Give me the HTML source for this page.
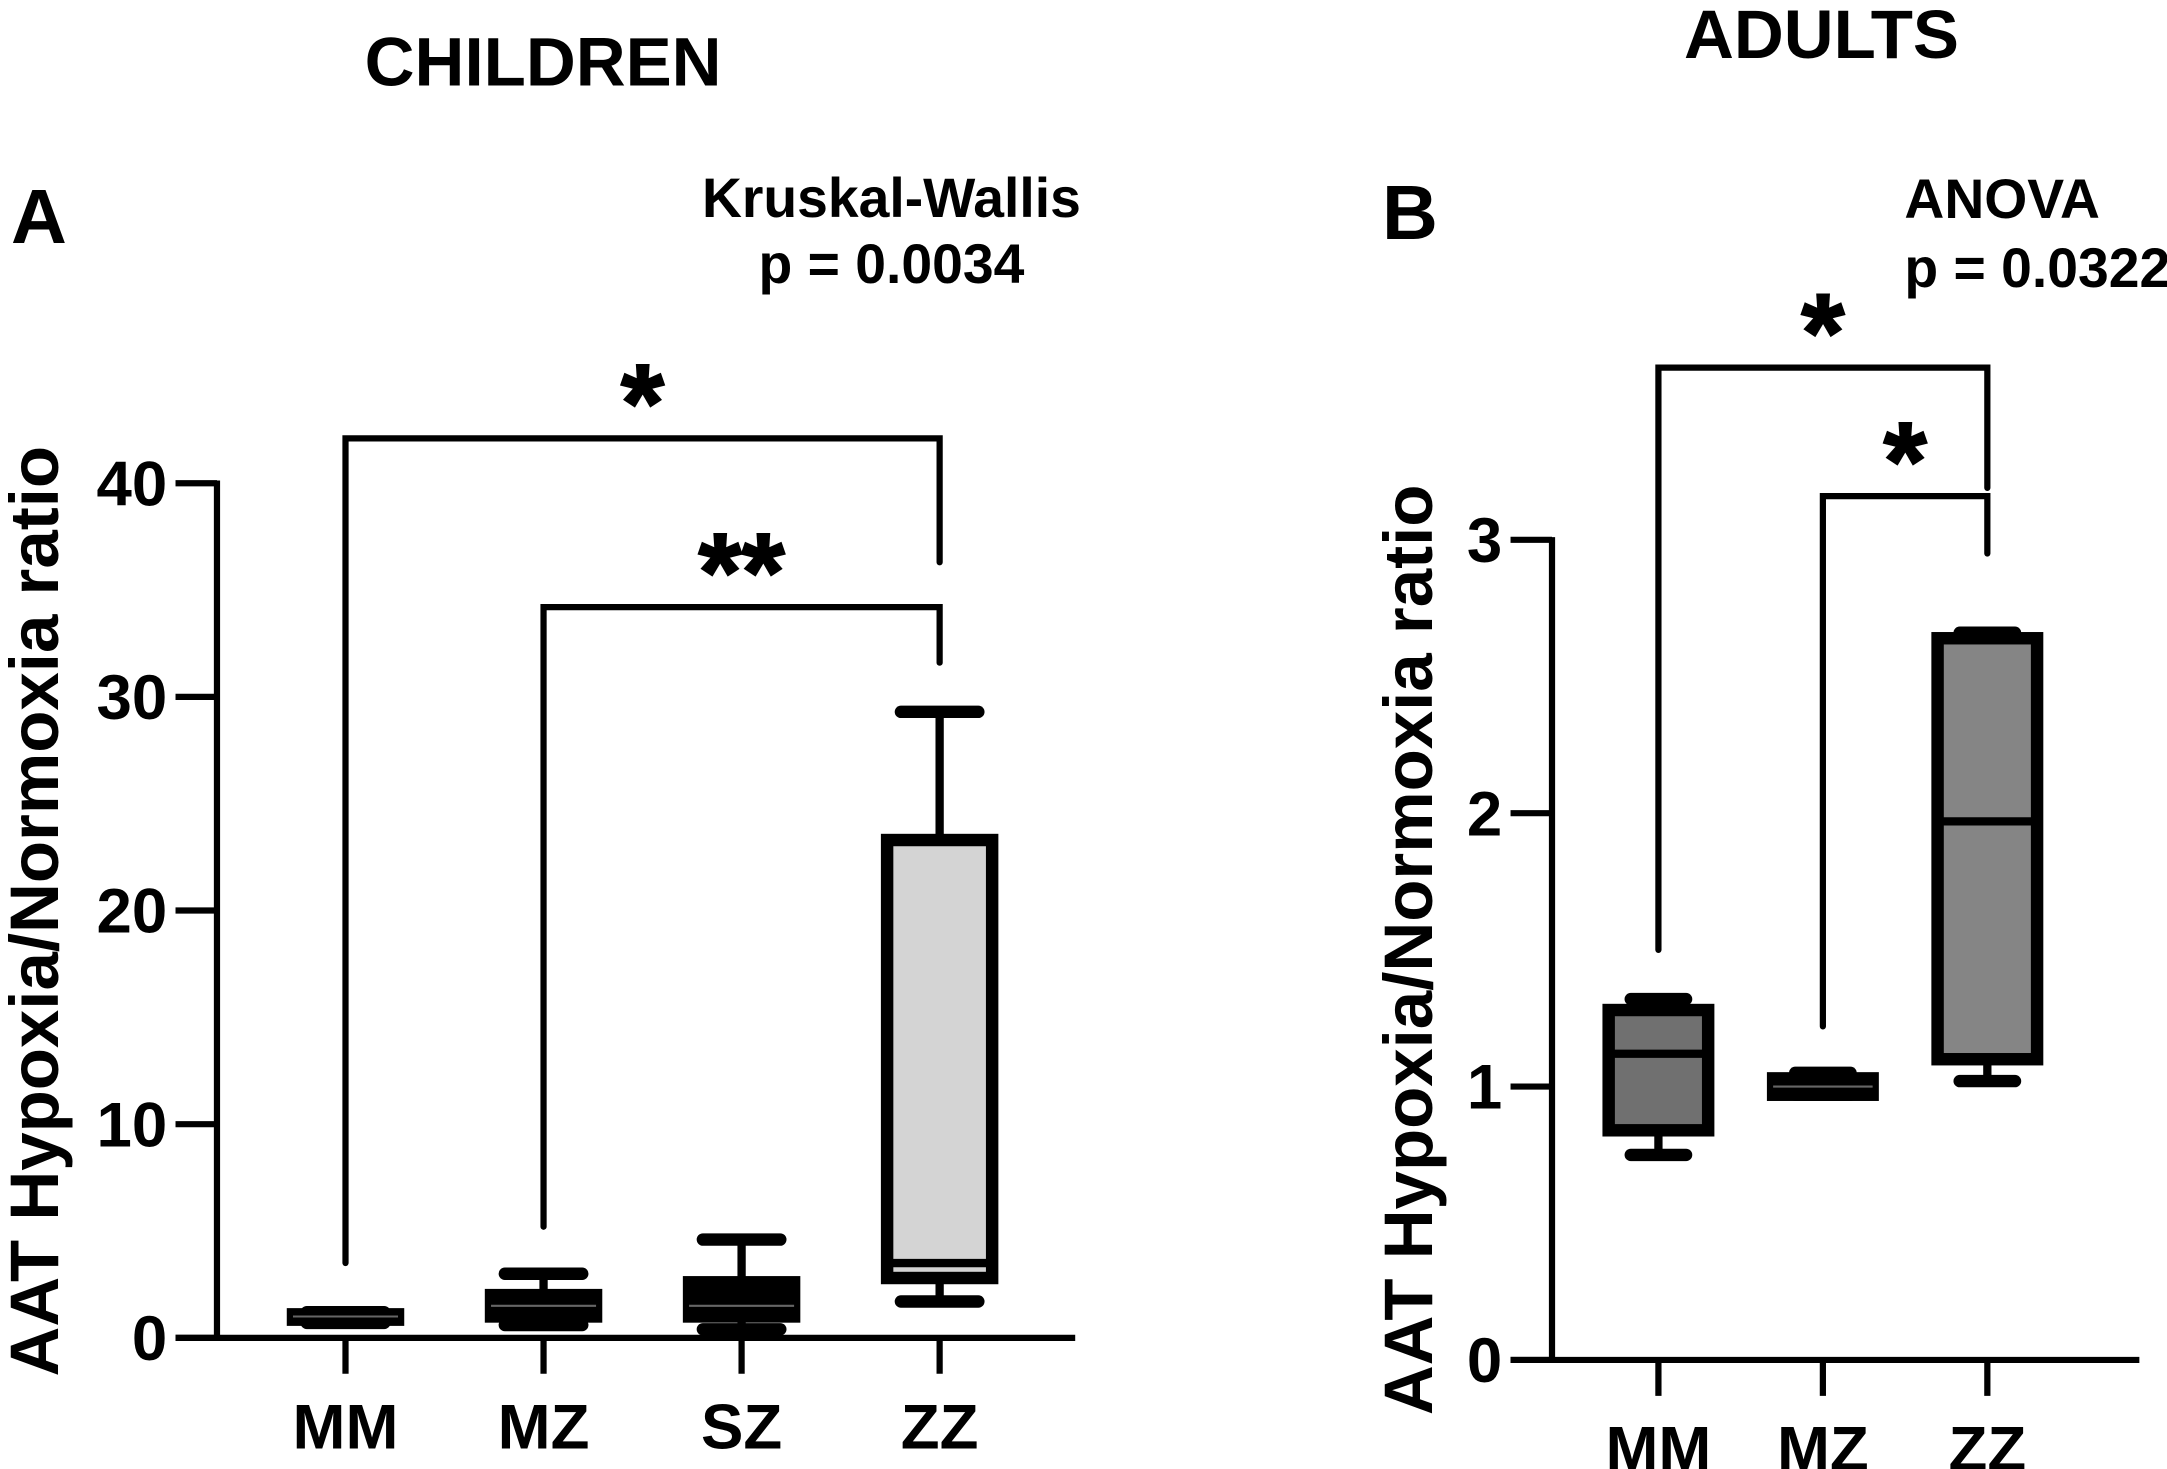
<!DOCTYPE html>
<html><head><meta charset="utf-8"><style>
html,body{margin:0;padding:0;background:#fff}
svg{display:block}
text{font-family:"Liberation Sans",Arial,sans-serif;font-weight:bold;fill:#000}
</style></head><body>
<svg id="fig" width="2167" height="1469" viewBox="0 0 1568 1064" preserveAspectRatio="none" xmlns="http://www.w3.org/2000/svg">
<text x="393" y="62" font-size="50" text-anchor="middle">CHILDREN</text>
<text x="1318" y="42" font-size="50" text-anchor="middle">ADULTS</text>
<text x="8" y="176" font-size="56">A</text>
<text x="1000" y="173" font-size="56">B</text>
<text x="645" y="157" font-size="40" text-anchor="middle">Kruskal-Wallis</text>
<text x="645" y="205" font-size="40" text-anchor="middle">p = 0.0034</text>
<text x="1378" y="158" font-size="40">ANOVA</text>
<text x="1378" y="208" font-size="40">p = 0.0322</text>
<text transform="translate(42,660) rotate(-90)" font-size="50" text-anchor="middle">AAT Hypoxia/Normoxia ratio</text>
<text transform="translate(1036,688) rotate(-90)" font-size="50" text-anchor="middle">AAT Hypoxia/Normoxia ratio</text>
<g id="pa"></g><g id="pb"></g>
</svg>
<script>
const catsA=["MM","MZ","SZ","ZZ"];
const lowA=[0.7,0.6,0.4,1.7];
const q1A=[0.85,1.0,1.0,2.8];
const medA=[1.0,1.5,1.5,3.5];
const q3A=[1.1,2.0,2.6,23.3];
const highA=[1.2,3.0,4.6,29.3];
const fillA=["#000","#000","#000","#d4d4d4"];
const ticksA=[0,10,20,30,40];
const bracketsA=[{from:0,to:3,y:42.1,l:3.5,r:36.3,label:"*"},{from:1,to:3,y:34.2,l:5.2,r:31.6,label:"**"}];

const catsB=["MM","MZ","ZZ"];
const lowB=[0.75,0.97,1.02];
const q1B=[0.84,0.97,1.1];
const medB=[1.12,1.0,1.97];
const q3B=[1.28,1.03,2.64];
const highB=[1.32,1.05,2.66];
const fillB=["#707070","#000","#858585"];
const ticksB=[0,1,2,3];
const bracketsB=[{from:0,to:2,y:3.63,l:1.5,r:3.19,label:"*"},{from:1,to:2,y:3.16,l:1.22,r:2.95,label:"*"}];

const NS="http://www.w3.org/2000/svg";
function mk(g,tag,a,txt){const e=document.createElementNS(NS,tag);for(const k in a)e.setAttribute(k,a[k]);if(txt!==undefined)e.textContent=txt;g.appendChild(e);return e;}

function panel(g,cfg){
  const y=v=>cfg.y0-(v-cfg.min)/(cfg.max-cfg.min)*(cfg.y0-cfg.yTop);
  const x=i=>cfg.x0+i*cfg.step;
  let e=mk(g,'line',{x1:cfg.axX,y1:y(cfg.max)-2,x2:cfg.axX,y2:cfg.y0+2,stroke:'#000','stroke-width':4.5});
  
  
  e=mk(g,'line',{x1:cfg.axX-30,y1:cfg.y0,x2:cfg.axEnd,y2:cfg.y0,stroke:'#000','stroke-width':4.5});
  
  
  cfg.ticks.forEach(t=>{
    e=mk(g,'line',{x1:cfg.axX-30,y1:y(t),x2:cfg.axX,y2:y(t),stroke:'#000','stroke-width':4.5});
    
    
    e=mk(g,'text',{x:cfg.axX-36,y:y(t)+16,'font-size':46,'text-anchor':'end'},String(t));
    
    
  });
  cfg.cats.forEach((c,i)=>{
    const cx=x(i);
    e=mk(g,'line',{x1:cx,y1:cfg.y0,x2:cx,y2:cfg.y0+26,stroke:'#000','stroke-width':4.5});
    
    
    e=mk(g,'text',{x:cx,y:cfg.y0+80,'font-size':46,'text-anchor':'middle'},c);
    
    
    const bw=cfg.bw,cw=cfg.cw;
    const wg=mk(g,'g',{stroke:'#000','stroke-width':6,'stroke-linecap':'round'});
    
    
    mk(wg,'line',{x1:cx,y1:y(cfg.high[i]),x2:cx,y2:y(cfg.low[i])});
    mk(wg,'line',{x1:cx-cw,y1:y(cfg.high[i]),x2:cx+cw,y2:y(cfg.high[i]),'stroke-width':9});
    mk(wg,'line',{x1:cx-cw,y1:y(cfg.low[i]),x2:cx+cw,y2:y(cfg.low[i]),'stroke-width':9});
    const top=y(cfg.q3[i]),bot=y(cfg.q1[i]);
    e=mk(g,'rect',{x:cx-bw/2,y:top,width:bw,height:Math.max(bot-top,0.5),fill:cfg.fill[i],stroke:'#000','stroke-width':9});
    
    
    e=mk(g,'line',{x1:cx-bw/2,y1:y(cfg.med[i]),x2:cx+bw/2,y2:y(cfg.med[i]),stroke:cfg.fill[i]==='#000'?'#666':'#000','stroke-width':cfg.fill[i]==='#000'?1.5:6});
    
    
  });
  cfg.brackets.forEach(b=>{
    const yy=y(b.y);
    e=mk(g,'polyline',{points:`${x(b.from)},${y(b.l)} ${x(b.from)},${yy} ${x(b.to)},${yy} ${x(b.to)},${y(b.r)}`,fill:'none',stroke:'#000','stroke-width':4.5,'stroke-linecap':'round'});
    
    
    e=mk(g,'text',{x:(x(b.from)+x(b.to))/2,y:yy+2,'font-size':80,'text-anchor':'middle',stroke:'#000','stroke-width':1.5},b.label);
    
    
  });
}
panel(document.getElementById('pa'),{cats:catsA,low:lowA,q1:q1A,med:medA,q3:q3A,high:highA,fill:fillA,ticks:ticksA,brackets:bracketsA,
  min:0,max:40,y0:969,yTop:350,axX:157,axEnd:778,x0:250,step:143.3,bw:76,cw:28});
panel(document.getElementById('pb'),{cats:catsB,low:lowB,q1:q1B,med:medB,q3:q3B,high:highB,fill:fillB,ticks:ticksB,brackets:bracketsB,
  min:0,max:3,y0:985,yTop:391,axX:1123,axEnd:1548,x0:1200,step:119,bw:72,cw:20});
</script>
</body></html>
